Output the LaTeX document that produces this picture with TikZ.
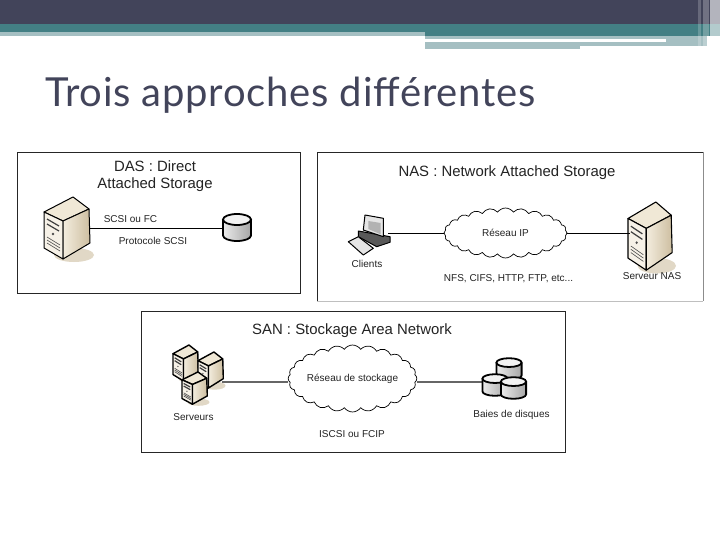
\documentclass[tikz,border=0pt]{standalone}
\usepackage{fontspec}
\setmainfont{Liberation Sans}
\newfontfamily\titlefont[LetterSpace=1.9]{Lato}
\usetikzlibrary{shapes.symbols, calc}
\definecolor{HeadDark}{RGB}{66,68,90}
\definecolor{HeadTeal}{RGB}{67,127,132}
\definecolor{HeadLight}{RGB}{165,191,194}
\definecolor{TowerLight}{RGB}{240,232,214}
\definecolor{TowerDark}{RGB}{205,190,160}
\definecolor{TextGrey}{RGB}{35,35,35}
\tikzset{
  % Cadres et textes
  panel/.style={draw=black!85,fill=white,line width=0.8pt,minimum width=#1,inner sep=0,outer sep=0},
  heading/.style={font=\fontsize{14.9}{17}\selectfont,text=TextGrey,align=center,inner sep=0},
  legend/.style={font=\fontsize{10}{12}\selectfont,text=TextGrey,inner sep=0},
  % Connexions
  link/.style={black,line width=0.8pt},
  link san/.style={black!60,line width=1.6pt},
  % Formes
  netcloud/.style={cloud,cloud ignores aspect,draw=black,fill=white,line width=0.7pt,cloud puffs=24,cloud puff arc=110,inner sep=0,font=\fontsize{10}{12}\selectfont,text=TextGrey},
  % Pics
  tower/.pic={
    \fill[TowerDark!60] (30,58) ellipse (20 and 7);
    \fill[TowerLight,draw=black,line width=#1,line join=round] (0,15)--(29,0)--(45,12)--(19,24)--cycle;
    \fill[TowerLight!60,draw=black,line width=#1,line join=round] (0,15)--(19,24)--(19,62)--(0,51)--cycle;
    \shade[left color=TowerLight!80,right color=TowerDark,draw=black,line width=#1,line join=round] (19,24)--(45,12)--(46,46)--(19,62)--cycle;
    \draw[black!75,line width=1.2pt] (3,22)--(15,29) (3,27)--(15,34);
    \fill[black!70] (9,37) circle (1.3);
    \draw[black!70,line width=0.6pt] (3,40)--(16,48) (3,43)--(16,51) (3,46)--(16,54);
  },
  drum/.pic={
    \shade[left color=black!8,right color=black!35,draw=black,line width=1.8pt] (-14,-8) -- (-14,8) arc (180:0:14 and 5.5) -- (14,-8);
    \fill[black!5,draw=black,line width=1.8pt] (0,-8) ellipse (14 and 5.5);
  },
  clientpc/.pic={
    \fill[black!65,draw=black,line width=1pt,line join=round] (10.3,16)--(42,21.7)--(42,27.3)--(28.7,31.7)--(10.3,21.7)--cycle;
    \fill[black!10,draw=black,line width=1pt,line join=round] (17,0)--(35.3,3.3)--(35.3,21.7)--(15.3,15)--cycle;
    \fill[black!30] (20.3,6)--(32.7,8)--(32.7,19.3)--(20.3,14)--cycle;
    \fill[black!10,draw=black,line width=1pt,line join=round] (0.3,26.7)--(10.3,21.7)--(25.3,33.3)--(15.3,40)--cycle;
  }
}
\begin{document}
\begin{tikzpicture}[x=1pt,y=-1pt]
  \useasboundingbox (0,0) rectangle (720,540);
  % bandeau
  \fill[HeadDark] (0,0) rectangle (720,24);
  \fill[HeadTeal] (0,24) rectangle (720,32);
  \fill[HeadTeal] (425,32) rectangle (720,36);
  \fill[HeadLight] (0,32) rectangle (425,36);
  \fill[HeadLight] (425,36) rectangle (707,46);
  \fill[white] (425,39) rectangle (666,42);
  \fill[HeadLight] (425,46) rectangle (580,49);
  \fill[white,opacity=0.2] (698,0) rectangle (701,46);
  \fill[white,opacity=0.25] (703,0) rectangle (709,46);
  \fill[white,opacity=0.6] (710,0) rectangle (720,49);
  \node[font=\titlefont\fontsize{40}{46}\selectfont,text=HeadDark,anchor=base west,inner sep=0] (title) at (45,107) {Trois approches différentes};

  % DAS
  \node[panel=283,minimum height=141] (dasbox) at (158.5,222.5) {};
  \node[heading] (dastitle) at (155,176) {DAS : Direct\\Attached Storage};
  \coordinate (dasserver) at (90,228);
  \coordinate (dasdisk) at (223,228);
  \pic at (44,197) {tower=1pt};
  \pic at (237,227.5) {drum};
  \draw[link] (dasserver) -- (dasdisk);
  \node[legend] (dasbus) at (130.5,219.5) {SCSI ou FC};
  \node[legend] (dasproto) at (153,240.5) {Protocole SCSI};

  % NAS
  \node[panel=386,minimum height=149,draw=none] (nasbox) at (510,226.5) {};
  \draw[black!85,line width=0.8pt] (nasbox.south west) -- (nasbox.north west) -- (nasbox.north east);
  \draw[black!45,line width=0.8pt] (nasbox.north east) -- (nasbox.south east);
  \draw[black!25,line width=0.8pt] (nasbox.south west) -- (nasbox.south east);
  \node[heading] (nastitle) at (507,173) {NAS : Network Attached Storage};
  \node[netcloud,minimum width=123,minimum height=50] (nascloud) at (505.5,233) {Réseau IP};
  \coordinate (nasclient) at (388,233);
  \coordinate (nasserver) at (630,233);
  \pic at (348,215) {clientpc};
  \pic[xscale=0.96,yscale=1.1] at (628,202) {tower=1.1pt};
  \draw[link] (nasclient) -- (nascloud.west);
  \draw[link] (nascloud.east) -- (nasserver);
  \node[legend] (nasclientlabel) at (367,263.5) {Clients};
  \node[legend] (nasproto) at (508.5,278.5) {NFS, CIFS, HTTP, FTP, etc...};
  \node[legend] (nasserverlabel) at (652,276.5) {Serveur NAS};

  % SAN
  \node[panel=424,minimum height=141] (sanbox) at (353,381.5) {};
  \node[heading] (santitle) at (352,331) {SAN : Stockage Area Network};
  \node[netcloud,minimum width=120,minimum height=67] (sancloud) at (352.5,378.5) {Réseau de stockage};
  \coordinate (sanservers) at (222,382);
  \coordinate (sandisks) at (483,382);
  \pic[xscale=0.55,yscale=0.58] at (173,345) {tower=1.4pt};
  \pic[xscale=0.55,yscale=0.58] at (198,352) {tower=1.4pt};
  \pic[xscale=0.55,yscale=0.52] at (182,372) {tower=1.4pt};
  \draw[link san] (sanservers) -- (sanservers -| sancloud.west);
  \draw[link san] (sanservers -| sancloud.east) -- (sandisks);
  \pic[xscale=0.9,yscale=0.8] at (509,369) {drum};
  \pic[xscale=0.9,yscale=0.8] at (495,385) {drum};
  \pic[xscale=0.9,yscale=0.8] at (513.5,388) {drum};
  \node[legend] (sanserverslabel) at (193.5,417) {Serveurs};
  \node[legend] (sandiskslabel) at (511.5,414.5) {Baies de disques};
  \node[legend] (sanproto) at (352,434.5) {ISCSI ou FCIP};
\end{tikzpicture}
\end{document}
